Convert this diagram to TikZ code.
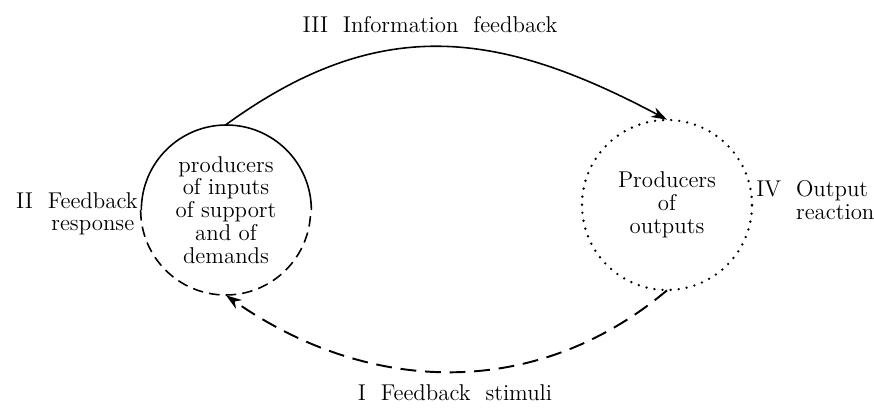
\documentclass[tikz,border=0pt]{standalone}
\usepackage{tikz}
\usetikzlibrary{arrows.meta}

\begin{document}
\begin{tikzpicture}[font=\fontsize{13}{13}\selectfont,
  producer/.style={circle,minimum size=3.4cm,inner sep=0pt,align=center},
  flow/.style={line width=0.9pt,-{Stealth[length=9pt,width=6pt]}}]
\useasboundingbox (0,0) rectangle (17.48,8.28);

\node[producer] (inputs) at (4.52,4.08) {producers\\of inputs\\of support\\and of\\demands};
\node[producer] (outputs) at (13.34,4.18) {Producers\\of\\outputs};

% circles
\draw[line width=0.9pt] (inputs.east) arc[start angle=0,end angle=180,radius=1.7cm];
\draw[line width=0.9pt,dash pattern=on 6pt off 3.5pt] (inputs.west) arc[start angle=180,end angle=360,radius=1.7cm];
\draw[line width=1.5pt,line cap=round,dash pattern=on 0pt off 4.6pt] (outputs) circle (1.7cm);

% arrows
\draw[flow] (inputs.north) to[out=36,in=152,looseness=1.1] (outputs.north);
\draw[flow,line width=1.1pt,dash pattern=on 9pt off 5pt] (outputs.south) to[out=220,in=-35] (inputs.south);

% labels
\node (info) at (8.6,7.78) {III\ \ Information\ \ feedback};
\node (stimuli) at (9.1,0.42) {I\ \ Feedback\ \ stimuli};
\node[anchor=east,inner sep=0pt] (response) at (2.76,3.98)
  {\begin{tabular}{@{}l@{\ \ }c@{}}II & Feedback\\ & response\end{tabular}};
\node[anchor=west,inner sep=0pt] (reaction) at (15.12,4.21)
  {\begin{tabular}{@{}l@{\ \ }l@{}}IV & Output\\ & reaction\end{tabular}};
\end{tikzpicture}
\end{document}
